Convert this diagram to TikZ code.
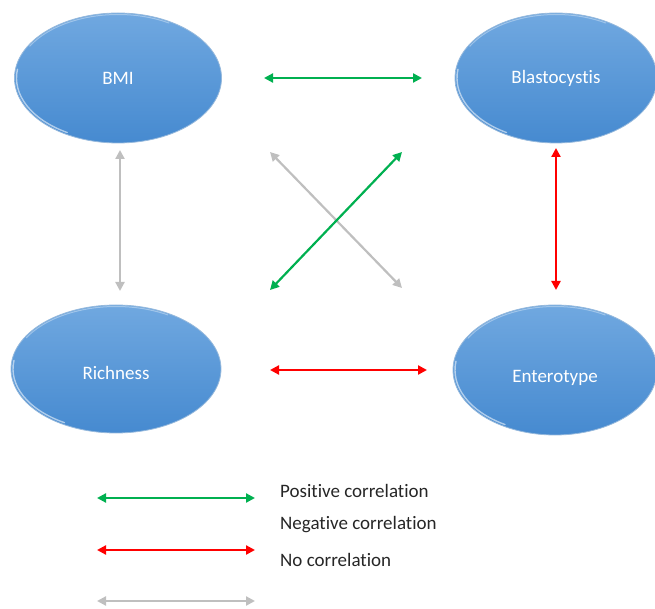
\documentclass[tikz,border=0pt]{standalone}
\usepackage{fontspec}
\setmainfont{Carlito}[Ligatures={NoCommon}]
\usetikzlibrary{shapes.geometric,arrows.meta,calc}
\definecolor{ellTop}{RGB}{112,168,224}
\definecolor{ellBot}{RGB}{70,138,208}
\definecolor{ellEdge}{RGB}{150,185,220}
\definecolor{posgreen}{RGB}{0,176,80}
\definecolor{negred}{RGB}{255,0,0}
\definecolor{nogray}{RGB}{191,191,191}
\tikzset{
  blob/.style={ellipse, draw=ellEdge, line width=0.8pt, top color=ellTop, bottom color=ellBot,
    text=white, font=\fontsize{19}{22}\selectfont, inner sep=0pt},
  gloss/.style={white, opacity=0.55, line width=1.4pt, line cap=round},
  rel/.style={line width=2.2pt, {Triangle[length=9pt,width=9pt]}-{Triangle[length=9pt,width=9pt]}},
  legtext/.style={anchor=west, inner sep=0pt, font=\fontsize{19}{22}\selectfont, text=black!85}
}
\newcommand{\glossy}[3]{%
  \draw[gloss] ($(#1.center)+(172:{#2-2} and {#3-2})$) arc[start angle=172, end angle=240, x radius={#2-2}, y radius={#3-2}];
  \draw[gloss, opacity=0.35, line width=1pt] ($(#1.center)+(150:{#2-1.5} and {#3-1.5})$) arc[start angle=150, end angle=60, x radius={#2-1.5}, y radius={#3-1.5}];
}
\newcommand{\lowtext}[2]{\raisebox{-#1}[\height][\depth]{#2}}
\begin{document}
\begin{tikzpicture}[x=1pt,y=1pt]
\useasboundingbox (0,0) rectangle (655,608);
% ellipses
\node[blob, minimum width=207pt, minimum height=130pt] (bmi) at (118,530) {BMI};
\node[blob, minimum width=202pt, minimum height=130pt] (bla) at (556,530) {Blastocystis};
\node[blob, minimum width=210pt, minimum height=128pt] (ric) at (116,239) {\lowtext{4pt}{Richness}};
\node[blob, minimum width=204pt, minimum height=130pt] (ent) at (555,238) {\lowtext{8pt}{Enterotype}};
\glossy{bmi}{103.5}{65}
\glossy{bla}{101}{65}
\glossy{ric}{105}{64}
\glossy{ent}{102}{65}
% arrow end points
\coordinate (gh1) at (264,530);
\coordinate (gh2) at (422,530);
\coordinate (gv1) at (120,458);
\coordinate (gv2) at (120,317);
\coordinate (rv1) at (556,460);
\coordinate (rv2) at (556,318);
\coordinate (gd1) at (270,456);
\coordinate (gd2) at (402,320);
\coordinate (pd1) at (402,456);
\coordinate (pd2) at (270,318);
\coordinate (rh1) at (270,238);
\coordinate (rh2) at (427,238);
% relation arrows
\draw[rel, nogray] (gd1) -- (gd2);
\draw[rel, posgreen] (pd1) -- (pd2);
\draw[rel, posgreen] (gh1) -- (gh2);
\draw[rel, nogray] (gv1) -- (gv2);
\draw[rel, negred] (rv1) -- (rv2);
\draw[rel, negred] (rh1) -- (rh2);
% legend
\coordinate (lg1) at (97,110);
\coordinate (lg2) at (255,110);
\coordinate (lr1) at (97,58);
\coordinate (lr2) at (255,58);
\coordinate (ly1) at (97,7);
\coordinate (ly2) at (255,7);
\draw[rel, posgreen] (lg1) -- (lg2);
\draw[rel, negred] (lr1) -- (lr2);
\draw[rel, nogray] (ly1) -- (ly2);
\node[legtext] (tpos) at (280,117) {Positive correlation};
\node[legtext] (tneg) at (280,83) {Negative correlation};
\node[legtext] (tno) at (280,48) {No correlation};
\end{tikzpicture}
\end{document}
